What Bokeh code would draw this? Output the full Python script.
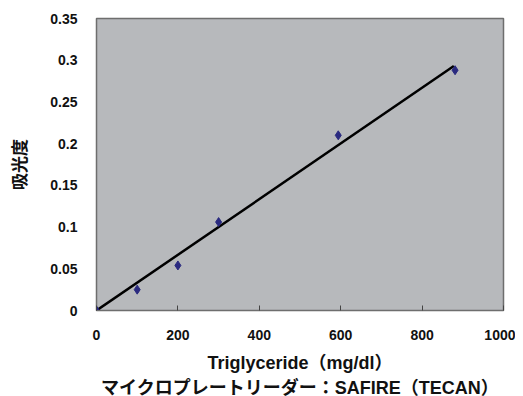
from bokeh.plotting import figure
from bokeh.models import Range1d, FixedTicker, Title
from bokeh.embed import file_html
from bokeh.resources import INLINE

conc = [0, 100, 200, 300, 594, 881]
absorb = [0.0, 0.025, 0.054, 0.106, 0.210, 0.288]
trend_x = [0, 878]
trend_y = [0.0, 0.293]
x_ticks = [0, 200, 400, 600, 800, 1000]
y_ticks = [0, 0.05, 0.1, 0.15, 0.2, 0.25, 0.3, 0.35]
y_labels = {0: "0", 0.05: "0.05", 0.1: "0.1", 0.15: "0.15", 0.2: "0.2", 0.25: "0.25", 0.3: "0.3", 0.35: "0.35"}

FONT = "'Liberation Sans', 'Noto Sans CJK JP', sans-serif"

p = figure(frame_width=407, frame_height=292, output_backend="svg", toolbar_location=None,
           x_range=Range1d(0, 1000), y_range=Range1d(0, 0.35),
           min_border_left=96, min_border_right=12, min_border_top=18, min_border_bottom=4)
p.background_fill_color = "#b7b9bc"
p.border_fill_color = "white"
p.outline_line_color = "#6e6e6e"
p.outline_line_width = 1.5
p.xgrid.visible = False
p.ygrid.visible = False

p.line(trend_x, trend_y, line_color="black", line_width=2.5)
p.scatter(conc, absorb, marker="diamond", size=9, fill_color="#2a2a80", line_color="#2a2a80")

xa = p.xaxis[0]
xa.ticker = FixedTicker(ticks=x_ticks)
xa.axis_line_color = "#6e6e6e"
xa.major_tick_in = 5
xa.major_tick_out = 0
xa.minor_tick_line_color = None
xa.major_tick_line_color = "#444444"
xa.major_label_standoff = 19
xa.major_label_text_font = FONT
xa.major_label_text_font_style = "bold"
xa.major_label_text_font_size = "14px"
xa.major_label_text_color = "#111111"
xa.axis_label = "Triglyceride（mg/dl）"
xa.axis_label_text_font = FONT
xa.axis_label_text_font_style = "bold"
xa.axis_label_text_font_size = "18px"
xa.axis_label_text_color = "#111111"
xa.axis_label_standoff = 10

ya = p.yaxis[0]
ya.ticker = FixedTicker(ticks=y_ticks)
ya.major_label_overrides = y_labels
ya.axis_line_color = None
ya.major_tick_line_color = None
ya.minor_tick_line_color = None
ya.major_label_standoff = 13
ya.major_label_text_font = FONT
ya.major_label_text_font_style = "bold"
ya.major_label_text_font_size = "14px"
ya.major_label_text_color = "#111111"
ya.axis_label = "吸光度"
ya.axis_label_text_font = FONT
ya.axis_label_text_font_style = "bold"
ya.axis_label_text_font_size = "17px"
ya.axis_label_text_color = "#111111"
ya.axis_label_standoff = 17

sub = Title(text="マイクロプレートリーダー：SAFIRE（TECAN）", align="center",
            text_font=FONT, text_font_style="bold", text_font_size="18px",
            text_color="#111111", standoff=0)
p.add_layout(sub, "below")

open("out.html", "w").write(file_html(p, INLINE))
